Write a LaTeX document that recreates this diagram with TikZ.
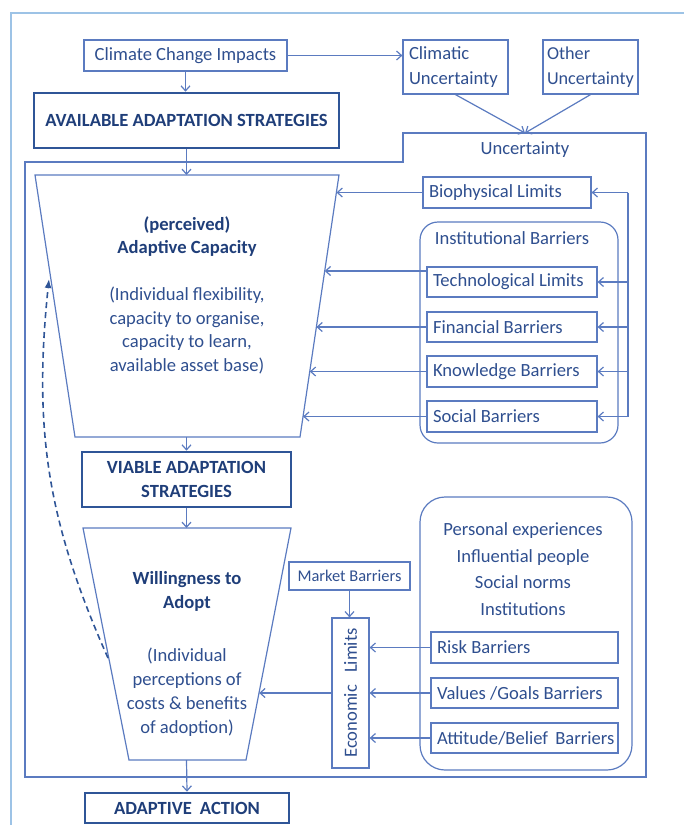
\documentclass[tikz,border=0pt]{standalone}
\usepackage{fontspec}
\usepackage{graphicx}
\setmainfont{Carlito}
\usetikzlibrary{arrows.meta,calc}
\definecolor{linec}{HTML}{5B7BC0}
\definecolor{textc}{HTML}{2F4F8F}
\definecolor{boldc}{HTML}{1F3E79}
\definecolor{thickc}{HTML}{2F5597}
\definecolor{framec}{HTML}{9DC3E6}
\begin{document}
\begin{tikzpicture}[x=0.5pt,y=-0.5pt,
  every node/.style={text=textc, font=\fontsize{9.3}{11.75}\selectfont},
  plain/.style={draw=linec, line width=0.6pt},
  box/.style={plain, inner sep=0pt},
  lbox/.style={box, align=flush left, text width=#1, inner xsep=3pt},
  strong/.style={draw=thickc, line width=1.3pt, inner sep=0pt, text=boldc,
    font=\fontsize{9.3}{12}\selectfont\bfseries, align=center},
  arr/.style={draw=linec, line width=0.6pt, -{Straight Barb[length=2.5pt,width=4.5pt]}},
  dasharr/.style={draw=thickc, line width=0.8pt, dash pattern=on 3pt off 2pt,
    -{Latex[length=4.5pt,width=3.5pt]}},
]
\useasboundingbox (0,0) rectangle (684,825);
% light outer frame (top and left sides)
\draw[framec, line width=1pt] (11,825) -- (11,13) -- (684,13);

% top row
\node[box, minimum width=101.5pt, minimum height=15.5pt] (cci) at (185.5,55.5) {Climate Change Impacts};
\node[lbox=46.5pt, minimum height=27pt, font=\fontsize{9.3}{12.5}\selectfont] (clu) at (455.5,67) {Climatic\\Uncertainty};
\node[lbox=43.5pt, inner xsep=2pt, minimum height=27pt, font=\fontsize{9.1}{12.5}\selectfont] (otu) at (590.5,67) {Other\\Uncertainty};
\node[strong, minimum width=152.5pt, minimum height=27.5pt] (aas) at (186.5,120.5) {AVAILABLE ADAPTATION STRATEGIES};

% uncertainty region
\coordinate (uncA) at (25,162);
\coordinate (uncB) at (403,162);
\coordinate (uncC) at (403,133);
\coordinate (unctop) at (525,133);
\coordinate (uncD) at (646,133);
\coordinate (uncE) at (646,777);
\coordinate (uncF) at (25,777);
\draw[plain] (uncA) -- (uncB) -- (uncC) -- (uncD) -- (uncE) -- (uncF) -- cycle;
\node (unclabel) at (525,150) {Uncertainty};

\draw[arr] (cci.east) -- (cci.east -| clu.west);
\draw[arr] (cci.south) -- (cci.south |- aas.north);
\draw[arr] (clu.south) -- (unctop);
\draw[arr] (otu.south) -- (unctop);

% adaptive capacity funnel
\coordinate (t1a) at (35,175);
\coordinate (t1b) at (339,175);
\coordinate (t1c) at (300,437);
\coordinate (t1d) at (75,437);
\coordinate (t1top) at (186.5,175);
\coordinate (t1bot) at (186.5,437);
\draw[plain] (t1a) -- (t1b) -- (t1c) -- (t1d) -- cycle;
\node[align=center] (cap) at (187,295) {\textcolor{boldc}{\bfseries (perceived)}\\
  \textcolor{boldc}{\bfseries Adaptive Capacity}\\[11.75pt]
  (Individual flexibility,\\ capacity to organise,\\ capacity to learn,\\ available asset base)};
\draw[arr] (aas.south) -- (t1top);

% limits and barriers
\node[lbox=78pt, minimum height=15.5pt] (bio) at (507,192.5) {Biophysical Limits};
\node[plain, rounded corners=9pt, minimum width=99pt, minimum height=110.5pt] (inst) at (519,332.5) {};
\node (instlabel) at (512,238) {Institutional Barriers};
\node[lbox=79pt, minimum height=15pt] (tech) at (512,282) {Technological Limits};
\node[lbox=79pt, minimum height=15pt] (fin) at (512,327) {Financial Barriers};
\node[lbox=79pt, minimum height=15.5pt] (know) at (512,371.5) {Knowledge Barriers};
\node[lbox=79pt, minimum height=15.5pt] (soc) at (512,416.5) {Social Barriers};

\coordinate (e1) at (336.5,192.5);
\coordinate (techsrc) at (427,271);
\coordinate (e2) at (324.7,271);
\coordinate (e3) at (316.4,327);
\coordinate (e4) at (309.8,371.5);
\coordinate (e5) at (303.1,416.5);
\draw[arr] (bio.west) -- (e1);
\draw[arr] (techsrc) -- (e2);
\draw[arr] (fin.west) -- (e3);
\draw[arr] (know.west) -- (e4);
\draw[arr] (soc.west) -- (e5);

% feedback line on the right
\coordinate (fbtop) at (628,192.5);
\coordinate (fbbot) at (628,416.5);
\draw[plain] (fbtop) -- (fbbot);
\draw[arr] (fbtop) -- (bio.east);
\draw[arr] (fbtop |- tech.east) -- (tech.east);
\draw[arr] (fbtop |- fin.east) -- (fin.east);
\draw[arr] (fbtop |- know.east) -- (know.east);
\draw[arr] (fbbot) -- (soc.east);

% viable strategies
\node[strong, minimum width=104.5pt, minimum height=27.5pt] (via) at (186.5,479.5) {VIABLE ADAPTATION\\STRATEGIES};
\draw[arr] (t1bot) -- (via.north);

% willingness funnel
\coordinate (t2a) at (83,528);
\coordinate (t2b) at (291,528);
\coordinate (t2c) at (246,760);
\coordinate (t2d) at (129,760);
\coordinate (t2top) at (186.5,528);
\coordinate (t2bot) at (186.5,760);
\draw[plain] (t2a) -- (t2b) -- (t2c) -- (t2d) -- cycle;
\node[align=center, font=\fontsize{9.3}{12}\selectfont] (will) at (187,654) {\textcolor{boldc}{\bfseries Willingness to}\\
  \textcolor{boldc}{\bfseries Adopt}\\[14.5pt]
  (Individual\\ perceptions of\\ costs \& benefits\\ of adoption)};
\draw[arr] (via.south) -- (t2top);

% economic limits
\node[box, minimum width=60.5pt, minimum height=14pt, font=\fontsize{8.2}{10}\selectfont] (mkt) at (349.5,576) {Market Barriers};
\node[box, minimum width=18.5pt, minimum height=75pt] (econ) at (350.5,693) {\rotatebox{90}{Economic\hspace{6pt}Limits}};
\draw[arr] (mkt.south) -- (mkt.south |- econ.north);
\coordinate (e6) at (259.2,693);
\draw[arr] (econ.west) -- (e6);

% social and personal factors
\node[plain, rounded corners=12.5pt, minimum width=106pt, minimum height=136.5pt] (pers) at (526,633.5) {};
\node[align=center, font=\fontsize{9.3}{13.3}\selectfont] (perslabel) at (523,569) {Personal experiences\\ Influential people\\ Social norms\\ Institutions};
\node[lbox=87.5pt, minimum height=15.5pt] (risk) at (524.5,647.5) {Risk Barriers};
\node[lbox=87.5pt, minimum height=15pt] (val) at (524.5,693) {Values /Goals Barriers};
\node[lbox=87.5pt, minimum height=15pt] (att) at (524.5,738) {\mbox{Attitude/Belief\hspace{1.5pt} Barriers}};
\draw[arr] (risk.west) -- (risk.west -| econ.east);
\draw[arr] (val.west) -- (val.west -| econ.east);
\draw[arr] (att.west) -- (att.west -| econ.east);

% feedback from willingness to capacity
\coordinate (dstart) at (108,658);
\coordinate (dend) at (49,279);
\draw[dasharr] (dstart) to[out=114, in=-96] (dend);

% action
\node[strong, minimum width=102pt, minimum height=15pt] (act) at (187,808) {ADAPTIVE\hspace{4pt}ACTION};
\draw[arr] (t2bot) -- (act.north);
\end{tikzpicture}
\end{document}
